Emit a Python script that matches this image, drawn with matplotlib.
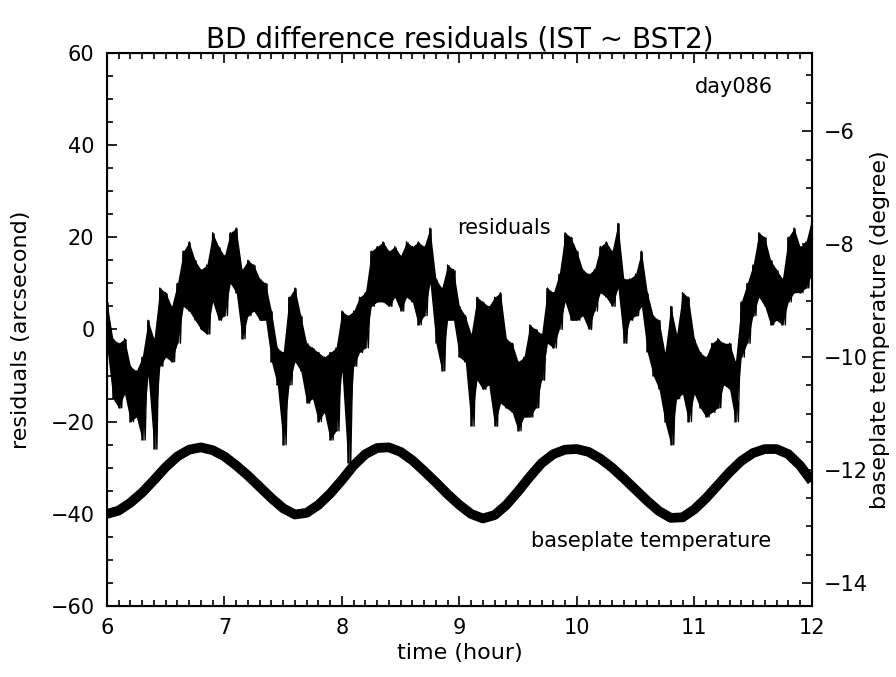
import matplotlib
matplotlib.use("Agg")
import matplotlib.pyplot as plt
from matplotlib.ticker import MultipleLocator

# residual band (arcsec), read as low/high envelope every 0.05 h
res_time = [6.00 + 0.05 * i for i in range(121)]
res_high = [
    6, -2, -3, -2, -8, -9, -6, 2, -2, 9,
    8, 5, 10, 17, 19, 15, 13, 14, 21, 18,
    16, 21, 22, 13, 15, 14, 11, 10, 4, -4,
    -5, 7, 9, 3, -3, -4, -5, -6, -5, -4,
    4, 3, 4, 7, 8, 17, 18, 19, 17, 18,
    16, 19, 18, 19, 18, 22, 11, 9, 14, 13,
    5, 3, -1, 7, 6, 5, 7, 8, -2, -3,
    -7, -6, 1, 0, -1, 9, 8, 12, 21, 20,
    17, 13, 12, 13, 18, 19, 17, 23, 11, 11,
    12, 17, 8, 3, 2, -5, 5, -1, 8, 7,
    -2, -5, -6, -3, -2, -3, -3, -7, 6, 10,
    14, 21, 20, 15, 13, 11, 20, 22, 18, 19,
    24,
]
res_low = [
    -4, -15, -17, -14, -20, -19, -24, -10, -26, -8,
    -6, -7, -3, 5, 4, 2, 0, -1, 6, 2,
    3, 10, 8, -2, 3, 4, 2, 2, -7, -12,
    -25, -12, -7, -9, -16, -15, -20, -18, -24, -22,
    -9, -29, -8, -5, -4, 5, 6, 6, 5, 7,
    4, 7, 6, 1, 3, 10, -3, -9, 2, 2,
    -6, -7, -21, -11, -13, -12, -21, -16, -17, -18,
    -22, -19, -19, -17, -11, -3, -4, 0, 6, 2,
    2, 3, 0, 4, 8, 7, 5, 9, -3, 2,
    3, 5, -5, -10, -13, -20, -25, -15, -14, -20,
    -14, -17, -19, -18, -17, -12, -13, -20, -6, -3,
    3, 7, 5, 1, 2, 1, 6, 8, 8, 9,
    12,
]

# baseplate temperature (degree), every 0.1 h
temp_time = [6.0 + 0.1 * i for i in range(61)]
temp_vals = [
    -12.78, -12.72, -12.58, -12.40, -12.18, -11.95, -11.76, -11.64, -11.60, -11.65,
    -11.76, -11.92, -12.10, -12.30, -12.50, -12.68, -12.79, -12.76, -12.62, -12.42,
    -12.18, -11.92, -11.72, -11.61, -11.60, -11.68, -11.83, -12.02, -12.22, -12.43,
    -12.62, -12.78, -12.86, -12.80, -12.62, -12.38, -12.12, -11.88, -11.72, -11.64,
    -11.63, -11.68, -11.80, -11.96, -12.15, -12.35, -12.55, -12.73, -12.85, -12.84,
    -12.70, -12.50, -12.27, -12.04, -11.84, -11.70, -11.63, -11.63, -11.72, -11.92,
    -12.20,
]

plt.rcParams["font.family"] = ["DejaVu Sans"]

fig = plt.figure(figsize=(8.96, 6.77), dpi=100)
ax = fig.add_axes([0.1194, 0.105, 0.7866, 0.8167])

# dense scatter: filled envelope, vertical strokes and a zigzag for the ragged edge
ax.fill_between(res_time, res_low, res_high, color="black", lw=0)
ax.vlines(res_time, res_low, res_high, color="black", lw=1.8)
zig_x = []
zig_y = []
for t, hi, lo in zip(res_time, res_high, res_low):
    zig_x += [t, t + 0.025]
    zig_y += [hi, lo]
ax.plot(zig_x, zig_y, color="black", lw=1.0)

ax.set_xlim(6, 12)
ax.set_ylim(-60, 60)
ax.xaxis.set_major_locator(MultipleLocator(1))
ax.xaxis.set_minor_locator(MultipleLocator(0.1))
ax.yaxis.set_major_locator(MultipleLocator(20))
ax.yaxis.set_minor_locator(MultipleLocator(5))
ax.tick_params(which="both", direction="in", top=True, right=False,
               labelsize=15, width=1.2, pad=9)
ax.tick_params(which="major", length=7)
ax.tick_params(which="minor", length=4)
ax.set_xlabel("time (hour)", fontsize=16, labelpad=3)
ax.set_ylabel("residuals (arcsecond)", fontsize=16, labelpad=14)
ax.set_title("BD difference residuals (IST ~ BST2)", fontsize=20, pad=4)
for s in ax.spines.values():
    s.set_linewidth(1.5)

ax2 = ax.twinx()
ax2.plot(temp_time, temp_vals, color="black", lw=7, solid_capstyle="butt")
ax2.set_ylim(-14.41, -4.61)
ax2.yaxis.set_major_locator(MultipleLocator(2))
ax2.yaxis.set_minor_locator(MultipleLocator(0.5))
ax2.tick_params(which="both", direction="in", labelsize=15, width=1.2, pad=9)
ax2.tick_params(which="major", length=7)
ax2.tick_params(which="minor", length=4)
ax2.set_ylabel("baseplate temperature (degree)", fontsize=16, labelpad=1)

ax.text(9.38, 22, "residuals", fontsize=15, ha="center", va="center")
ax.text(10.63, -46, "baseplate temperature", fontsize=15, ha="center", va="center")
ax.text(11.34, 52.7, "day086", fontsize=15, ha="center", va="center")

fig.savefig("out.png", dpi=100)
